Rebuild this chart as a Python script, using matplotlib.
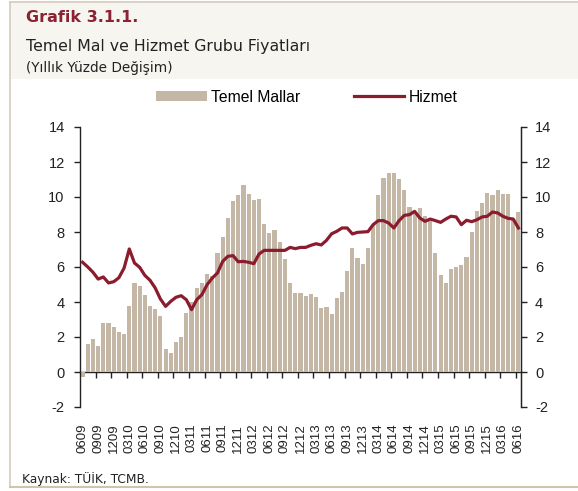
import matplotlib
matplotlib.use('Agg')
import matplotlib.pyplot as plt
import numpy as np
from matplotlib.patches import Rectangle, Patch
from matplotlib.lines import Line2D

tick_labels = ['0609', '0909', '1209', '0310', '0610', '0910', '1210', '0311', '0611',
               '0911', '1211', '0312', '0612', '0912', '1212', '0313', '0613', '0913',
               '1213', '0314', '0614', '0914', '1214', '0315', '0615', '0915', '1215',
               '0316', '0616']

temel_mallar = [-0.3, 1.6, 1.9, 1.5, 2.8, 2.8, 2.6, 2.3, 2.2, 3.8,
                5.1, 4.9, 4.4, 3.8, 3.6, 3.2, 1.3, 1.1, 1.7, 2.0,
                3.35, 4.0, 4.8, 5.1, 5.6, 5.5, 6.8, 7.7, 8.8, 9.8,
                10.1, 10.7, 10.2, 9.85, 9.9, 8.45, 7.95, 8.1, 7.45, 6.45,
                5.1, 4.5, 4.5, 4.35, 4.45, 4.3, 3.65, 3.7, 3.3, 4.25,
                4.6, 5.8, 7.1, 6.5, 6.2, 7.1, 8.4, 10.1, 11.1, 11.4,
                11.4, 11.05, 10.4, 9.45, 9.1, 9.4, 8.9, 8.65, 6.8, 5.55,
                5.1, 5.9, 6.0, 6.1, 6.6, 8.0, 9.2, 9.65, 10.25, 10.1,
                10.4, 10.15, 10.15, 8.7, 9.15]

hizmet = [6.27, 6.0, 5.7, 5.31, 5.43, 5.09, 5.16, 5.39, 5.94, 7.03,
          6.23, 5.98, 5.52, 5.24, 4.8, 4.17, 3.75, 4.04, 4.27, 4.36,
          4.13, 3.56, 4.13, 4.42, 4.99, 5.37, 5.66, 6.32, 6.61, 6.65,
          6.3, 6.32, 6.27, 6.19, 6.74, 6.95, 6.95, 6.95, 6.95, 6.95,
          7.12, 7.05, 7.12, 7.12, 7.24, 7.33, 7.26, 7.52, 7.9, 8.04,
          8.23, 8.23, 7.89, 7.98, 8.0, 8.02, 8.42, 8.65, 8.65, 8.51,
          8.23, 8.65, 8.95, 8.99, 9.18, 8.8, 8.61, 8.74, 8.65, 8.55,
          8.74, 8.9, 8.86, 8.42, 8.67, 8.59, 8.7, 8.86, 8.9, 9.14,
          9.09, 8.9, 8.78, 8.74, 8.23]

series_names = ['Temel Mallar', 'Hizmet']
yticks = [-2, 0, 2, 4, 6, 8, 10, 12, 14]

BAR_C = '#c4b7a6'
LINE_C = '#8b1c2e'
TITLE_C = '#8b2232'
BORDER_C = '#d6ccbb'
AX_C = '#222222'

W, H = 578, 491
fig = plt.figure(figsize=(W / 100, H / 100), dpi=100)
fig.patch.set_facecolor('white')

# header band and frame
fig.patches.append(Rectangle((10 / W, 1 - 79 / H), 1 - 10 / W, 78 / H,
                             transform=fig.transFigure, facecolor='#f6f5f0',
                             edgecolor='none', zorder=0))
fig.add_artist(Line2D([10 / W, 1], [1 - 1.5 / H, 1 - 1.5 / H], color=BORDER_C, lw=1.2))
fig.add_artist(Line2D([10 / W, 10 / W], [1 - 1.5 / H, 1 - 487 / H], color=BORDER_C, lw=1.2))
fig.add_artist(Line2D([10 / W, 1], [1 - 487 / H, 1 - 487 / H], color='#d2c4a8', lw=1.5))

fig.text(26 / W, 1 - 18 / H, 'Grafik 3.1.1.', fontsize=11.5, fontweight='bold',
         color=TITLE_C, va='center', ha='left', family='DejaVu Sans')
fig.text(26 / W, 1 - 46 / H, 'Temel Mal ve Hizmet Grubu Fiyatları', fontsize=11.3,
         color='#222222', va='center', ha='left', family='DejaVu Sans')
fig.text(26 / W, 1 - 68 / H, '(Yıllık Yüzde Değişim)', fontsize=9.8,
         color='#222222', va='center', ha='left', family='DejaVu Sans')
fig.text(22 / W, 1 - 479 / H, 'Kaynak: TÜİK, TCMB.', fontsize=8.8,
         color='#222222', va='center', ha='left', family='DejaVu Sans')

ax = fig.add_axes([80 / W, 1 - 407 / H, 441 / W, 280 / H])
ax.set_facecolor('white')
x = np.arange(len(temel_mallar))
ax.bar(x, temel_mallar, width=0.8, color=BAR_C, zorder=2)
ax.plot(x, hizmet, color=LINE_C, lw=2.3, zorder=3, solid_joinstyle='round')

ax.set_xlim(-0.5, len(x) - 0.5)
ax.set_ylim(-2, 14)
ax.set_yticks(yticks)
ax.set_yticklabels([str(v) for v in yticks], family='Liberation Sans', fontsize=10.5)
ax.tick_params(axis='y', direction='out', length=4, width=1, pad=7, colors=AX_C)
for s in ['top', 'bottom']:
    ax.spines[s].set_visible(False)
for s in ['left', 'right']:
    ax.spines[s].set_color(AX_C)
    ax.spines[s].set_linewidth(1)

ax.set_xticks(x[::3])
ax.set_xticklabels(tick_labels, rotation=90, family='Liberation Sans', fontsize=9.5)
ax.tick_params(axis='x', length=0, pad=12, colors=AX_C)

ax2 = ax.twinx()
ax2.set_ylim(ax.get_ylim())
ax2.set_yticks(yticks)
ax2.set_yticklabels([str(v) for v in yticks], family='Liberation Sans', fontsize=10.5)
ax2.tick_params(axis='y', direction='out', length=4, width=1, pad=6, colors=AX_C)
for s in ['top', 'bottom', 'left']:
    ax2.spines[s].set_visible(False)
ax2.spines['right'].set_color(AX_C)

zero_frac = (0 - (-2)) / (14 - (-2))
sec = ax.secondary_xaxis(zero_frac)
sec.set_xticks(np.arange(2.5, len(x) - 1, 3))
sec.set_xticklabels([])
sec.tick_params(axis='x', direction='out', length=4, width=1, colors=AX_C)
sec.spines['bottom'].set_color(AX_C)
sec.spines['bottom'].set_linewidth(1)

handles = [Patch(facecolor=BAR_C, edgecolor='none'),
           Line2D([], [], color=LINE_C, lw=2.3)]
fig.legend(handles, series_names, loc='center', bbox_to_anchor=(307 / W, 1 - 97 / H),
           ncol=2, frameon=False, prop={'family': 'Liberation Sans', 'size': 11.3},
           handlelength=3.2, handleheight=0.55, handletextpad=0.3, columnspacing=3.4)

fig.savefig('out.png', dpi=100, facecolor='white')
